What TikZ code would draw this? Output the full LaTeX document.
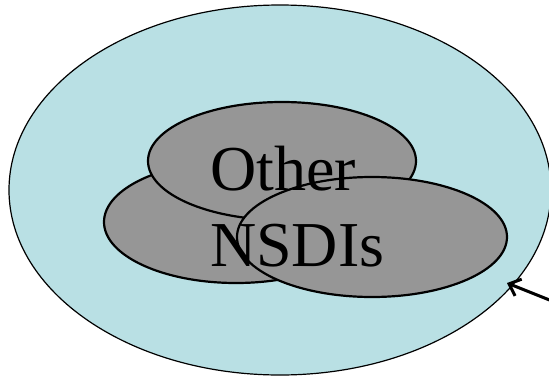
\documentclass[tikz,border=0pt]{standalone}
\usepackage{fontspec}
\setmainfont{Liberation Serif}
\usetikzlibrary{arrows.meta}
\definecolor{outerblue}{RGB}{185,224,228}
\definecolor{innergray}{RGB}{150,150,150}
\tikzset{
  blob/.style={draw=black, line width=2.2pt, fill=innergray},
  pointer/.style={-{Straight Barb[length=10pt,width=18pt]}, line width=3pt}
}
\begin{document}
\begin{tikzpicture}[x=1pt,y=-1pt]
  \useasboundingbox (0,0) rectangle (549,378);
  \draw[fill=outerblue, line width=1.2pt] (280,190) ellipse [x radius=271, y radius=185];

  \draw[blob] (236,222) ellipse [x radius=132, y radius=61];
  \draw[blob] (282,161) ellipse [x radius=134, y radius=59];
  \draw[blob] (372,237) ellipse [x radius=135, y radius=60];

  \node[align=left, anchor=north west, inner sep=0pt, font=\fontsize{64}{76}\selectfont] (label) at (210,146) {Other\\NSDIs};

  \coordinate (tail) at (552,301);
  \coordinate (tip) at (507,283);
  \draw[pointer] (tail) -- (tip);
\end{tikzpicture}
\end{document}
